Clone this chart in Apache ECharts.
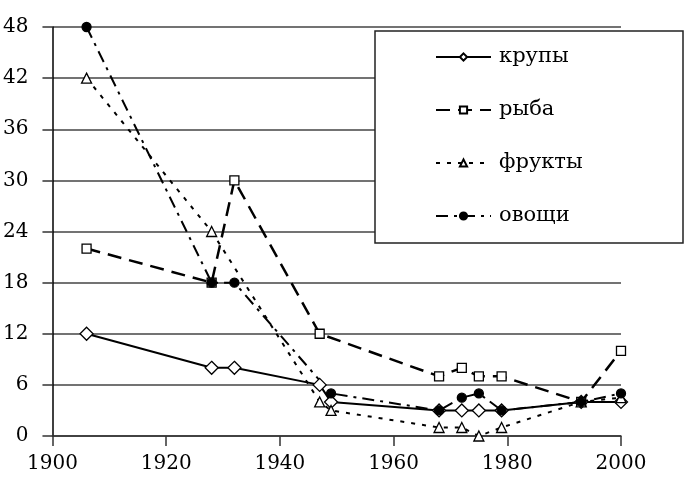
<!DOCTYPE html>
<html>
<head>
<meta charset="utf-8">
<script src="https://cdn.jsdelivr.net/npm/echarts@6/dist/echarts.min.js"></script>
<style>
  html, body { margin: 0; padding: 0; background: #fff; }
  #chart { width: 684px; height: 490px; }
</style>
</head>
<body>
<div id="chart"></div>
<script>
// данные
const seriesNames = ['крупы', 'рыба', 'фрукты', 'овощи'];

const krupyYears = [1906, 1928, 1932, 1947, 1949, 1968, 1972, 1975, 1979, 1993, 2000];
const krupyValues = [12, 8, 8, 6, 4, 3, 3, 3, 3, 4, 4];

const rybaYears = [1906, 1928, 1932, 1947, 1968, 1972, 1975, 1979, 1993, 2000];
const rybaValues = [22, 18, 30, 12, 7, 8, 7, 7, 4, 10];

const fruktyYears = [1906, 1928, 1947, 1949, 1968, 1972, 1975, 1979, 1993, 2000];
const fruktyValues = [42, 24, 4, 3, 1, 1, 0, 1, 4, 4.5];

const ovoshchiYears = [1906, 1928, 1932, 1949, 1968, 1972, 1975, 1979, 1993, 2000];
const ovoshchiValues = [48, 18, 18, 5, 3, 4.5, 5, 3, 4, 5];

const FONT = 'DejaVu Serif';

function pairs(xs, ys) {
  return xs.map((x, i) => [x, ys[i]]);
}

const chart = echarts.init(document.getElementById('chart'));

// общие настройки для серий
function lineSeries(name, data, symbol, size, fill, dash, width) {
  return {
    name,
    type: 'line',
    data,
    symbol,
    symbolSize: size,
    showAllSymbol: true,
    itemStyle: { color: fill, borderColor: '#000', borderWidth: 1.3 },
    lineStyle: { color: '#000', width, type: dash },
    emphasis: { disabled: true }
  };
}

const options = {
  animation: false,
  grid: { left: 50, right: 63, top: 27, bottom: 54 },
  xAxis: {
    type: 'value',
    min: 1900,
    max: 2000,
    interval: 20,
    axisLine: { show: true, lineStyle: { color: '#333', width: 1.5 } },
    axisTick: { show: true, length: 10, lineStyle: { color: '#333', width: 1.5 } },
    axisLabel: {
      margin: 18,
      color: '#000',
      fontFamily: FONT,
      fontSize: 20,
      formatter: v => String(v)
    },
    splitLine: { show: false }
  },
  yAxis: {
    type: 'value',
    min: 0,
    max: 48,
    interval: 6,
    axisLine: { show: true, lineStyle: { color: '#000', width: 1.5 } },
    axisTick: { show: true, length: 10, lineStyle: { color: '#333', width: 1.5 } },
    axisLabel: { margin: 24, color: '#000', fontFamily: FONT, fontSize: 20 },
    splitLine: { show: true, lineStyle: { color: '#444', width: 1.5 } }
  },
  legend: {
    orient: 'vertical',
    left: 430,
    top: 41,
    itemWidth: 55,
    itemHeight: 9,
    itemGap: 31,
    data: seriesNames,
    textStyle: { fontFamily: FONT, fontSize: 21, color: '#000', lineHeight: 22, padding: [0, 0, 0, 3] }
  },
  graphic: [
    {
      type: 'rect',
      z: 3,
      shape: { x: 375, y: 31, width: 308, height: 212 },
      style: { fill: '#fff', stroke: '#222', lineWidth: 1.5 }
    }
  ],
  series: [
    lineSeries(seriesNames[0], pairs(krupyYears, krupyValues), 'diamond', 13, '#fff', 'solid', 2),
    lineSeries(seriesNames[1], pairs(rybaYears, rybaValues), 'rect', 9, '#fff', [14, 8], 2.5),
    lineSeries(seriesNames[2], pairs(fruktyYears, fruktyValues), 'triangle', 10, '#fff', [4, 7], 2),
    lineSeries(seriesNames[3], pairs(ovoshchiYears, ovoshchiValues), 'circle', 9, '#000', [12, 6, 3, 6], 2)
  ]
};

chart.setOption(options);
</script>
</body>
</html>
